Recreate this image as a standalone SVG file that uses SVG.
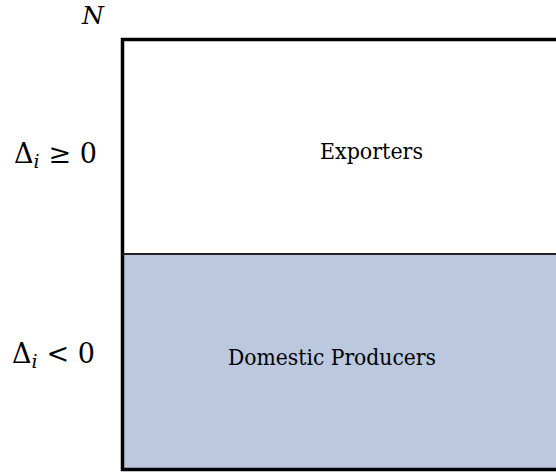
<svg xmlns="http://www.w3.org/2000/svg" width="556" height="473" viewBox="0 0 556 473">
<style>
text{font-family:'DejaVu Serif','Liberation Serif',serif;fill:#000;}
.lbl{font-size:22.5px;}
.border{fill:none;stroke:#000;stroke-width:3.5;}
</style>
<rect width="556" height="473" fill="#fff"/>
<g id="domestic">
<rect x="122.5" y="254" width="440" height="215.5" fill="#bcc8de"/>
<text class="lbl" x="228" y="365" textLength="208" lengthAdjust="spacingAndGlyphs" fill="#161c2c">Domestic Producers</text>
</g>
<g id="exporters">
<text class="lbl" x="320" y="159" textLength="103" lengthAdjust="spacingAndGlyphs">Exporters</text>
</g>
<g id="frame">
<path class="border" d="M560 39.5 H122.5 V469.5 H560"/>
<line x1="122.5" y1="254" x2="560" y2="254" stroke="#222" stroke-width="2.2"/>
</g>
<g id="axis-labels">
<text x="82" y="24" font-size="25" font-style="italic">N</text>
<text x="14" y="163" font-size="27">Δ<tspan font-style="italic" font-size="19" dy="5">i</tspan><tspan dy="-5" dx="9">≥ 0</tspan></text>
<text x="12" y="363" font-size="27">Δ<tspan font-style="italic" font-size="19" dy="5">i</tspan><tspan dy="-5" dx="9">&lt; 0</tspan></text>
</g>
</svg>
